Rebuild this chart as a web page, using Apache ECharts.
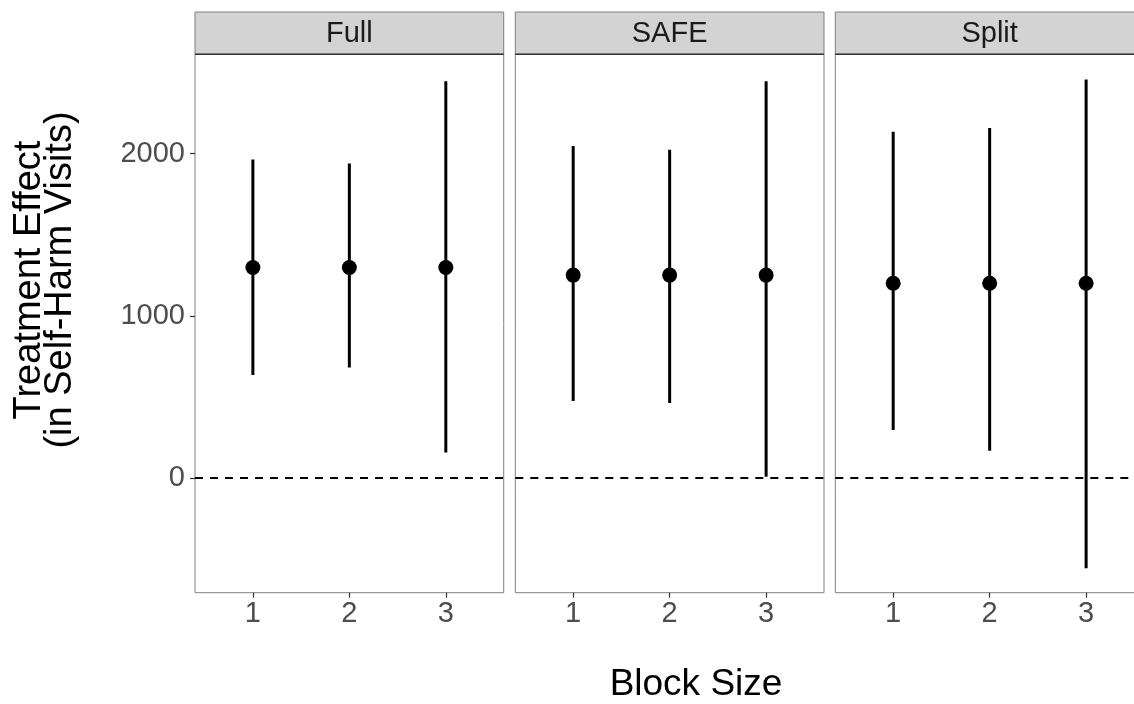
<!DOCTYPE html>
<html>
<head>
<meta charset="utf-8">
<script src="https://cdn.jsdelivr.net/npm/echarts@6/dist/echarts.min.js"></script>
<style>html,body{margin:0;padding:0;background:#fff;}#c{width:1134px;height:704px;}</style>
</head>
<body>
<div id="c"></div>
<script>
const panels = ['Full', 'SAFE', 'Split'];
const blockSizes = [1, 2, 3];
const yTicks = [0, 1000, 2000];
const fullEst = [1298, 1298, 1298];
const fullLow = [635, 682, 158];
const fullHigh = [1964, 1939, 2446];
const safeEst = [1251, 1251, 1251];
const safeLow = [474, 462, 8];
const safeHigh = [2046, 2023, 2446];
const splitEst = [1201, 1201, 1201];
const splitLow = [296, 168, -556];
const splitHigh = [2134, 2158, 2456];

const ests = [fullEst, safeEst, splitEst];
const lows = [fullLow, safeLow, splitLow];
const highs = [fullHigh, safeHigh, splitHigh];

const FONT = '"Liberation Sans", Arial, sans-serif';
const panelLeft = [195, 515.3, 835.3];
const panelW = 308.7;
const stripTop = 12, stripH = 42.3;
const panelTop = stripTop + stripH;
const panelH = 592.7 - panelTop;
const yMin = -707, yMax = 2612;

const grids = [], xAxes = [], yAxes = [], series = [], graphics = [];
panels.forEach((p, i) => {
  grids.push({left: panelLeft[i], top: panelTop, width: panelW, height: panelH,
    outerBoundsMode: 'none',
    show: true, borderColor: '#7f7f7f', borderWidth: 1, backgroundColor: '#fff', containLabel: false});
  xAxes.push({type: 'value', gridIndex: i, min: 0.4, max: 3.6, position: 'bottom',
    splitLine: {show: false},
    axisLine: {show: false, onZero: false},
    axisTick: {show: true, length: 5, lineStyle: {color: '#333', width: 1.2}, customValues: blockSizes},
    axisLabel: {show: true, customValues: blockSizes, color: '#4d4d4d', fontSize: 29, fontFamily: FONT, margin: 7,
      formatter: v => String(v)}
  });
  yAxes.push({type: 'value', gridIndex: i, min: yMin, max: yMax,
    splitLine: {show: false},
    axisLine: {show: false, onZero: false},
    axisTick: {show: i === 0, length: 5, lineStyle: {color: '#333', width: 1.2}, customValues: yTicks},
    axisLabel: {show: i === 0, customValues: yTicks, color: '#4d4d4d', fontSize: 29, fontFamily: FONT, margin: 10,
      formatter: v => String(v)}
  });
  // error bars
  series.push({
    type: 'custom', xAxisIndex: i, yAxisIndex: i,
    data: blockSizes.map((b, k) => [b, lows[i][k], highs[i][k]]),
    renderItem: function (params, api) {
      const a = api.coord([api.value(0), api.value(1)]);
      const b = api.coord([api.value(0), api.value(2)]);
      return {type: 'line', shape: {x1: a[0], y1: a[1], x2: b[0], y2: b[1]},
        style: {stroke: '#000', lineWidth: 3}};
    },
    clip: true,
    z: 3
  });
  series.push({
    type: 'scatter', xAxisIndex: i, yAxisIndex: i,
    data: blockSizes.map((b, k) => [b, ests[i][k]]),
    symbol: 'circle', symbolSize: 15,
    itemStyle: {color: '#000', opacity: 1},
    z: 4,
    markLine: {
      silent: true, symbol: 'none', label: {show: false},
      lineStyle: {color: '#000', type: [8, 7], width: 2},
      data: [{yAxis: 0}]
    }
  });
  // strip
  graphics.push({type: 'rect', shape: {x: panelLeft[i], y: stripTop, width: panelW, height: stripH},
    style: {fill: '#d3d3d3', stroke: '#7f7f7f', lineWidth: 1}, z: 10});
  graphics.push({type: 'line', shape: {x1: panelLeft[i], y1: panelTop, x2: panelLeft[i] + panelW, y2: panelTop},
    style: {stroke: '#333', lineWidth: 1.5}, z: 11});
  graphics.push({type: 'text', x: panelLeft[i] + panelW / 2, y: stripTop + stripH / 2 + 1,
    style: {text: p, fill: '#1a1a1a', font: '29px ' + FONT, textAlign: 'center', textVerticalAlign: 'middle'}, z: 12});
});

graphics.push({type: 'text', x: 696, y: 685,
  style: {text: 'Block Size', fill: '#000', font: '37px ' + FONT, textAlign: 'center', textVerticalAlign: 'middle'}, z: 12});
graphics.push({type: 'text', x: 45, y: 280, rotation: Math.PI / 2,
  style: {text: 'Treatment Effect\n(in Self-Harm Visits)', fill: '#000', font: '38px ' + FONT,
    textAlign: 'center', textVerticalAlign: 'middle', lineHeight: 31}, z: 12});

const chart = echarts.init(document.getElementById('c'), null, {renderer: 'canvas'});
chart.setOption({
  animation: false,
  backgroundColor: '#fff',
  grid: grids,
  xAxis: xAxes,
  yAxis: yAxes,
  series: series,
  graphic: graphics
});
</script>
</body>
</html>
